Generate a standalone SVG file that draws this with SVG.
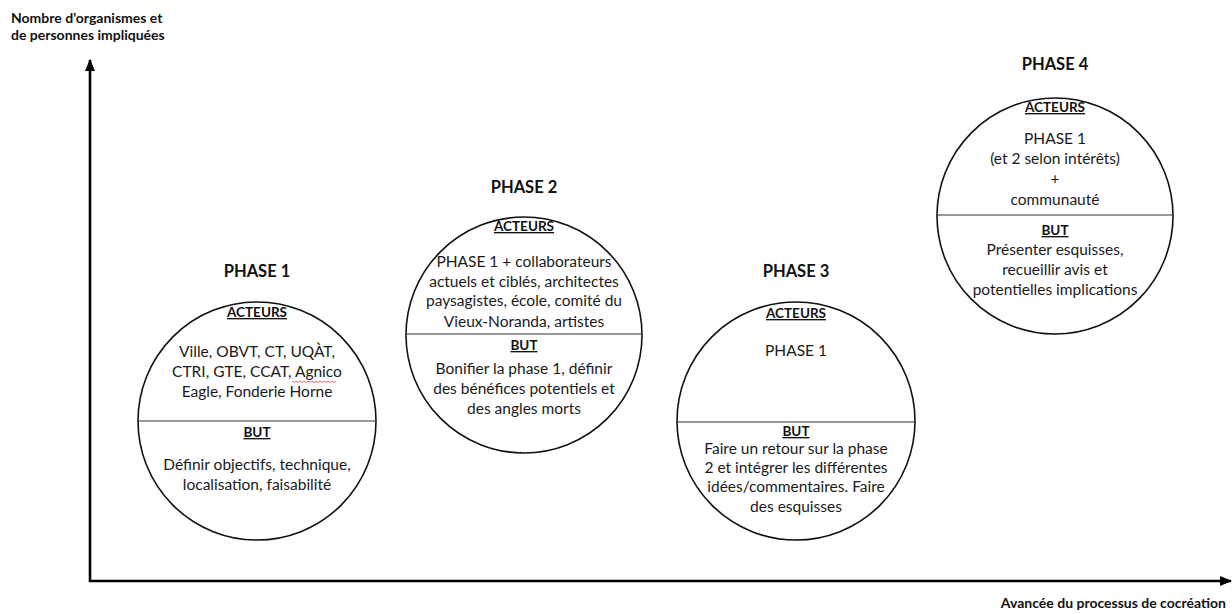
<svg xmlns="http://www.w3.org/2000/svg" width="1232" height="614" viewBox="0 0 1232 614">
<defs>
<style>
text{font-family:Lato,"Liberation Sans",sans-serif;fill:#1a1a1a;}
.t{font-weight:bold;font-size:16.5px;text-anchor:middle;fill:#111;}
.h{font-weight:bold;font-size:13.5px;text-anchor:middle;text-decoration:underline;fill:#111;}
.b{font-size:15.5px;text-anchor:middle;}
.ax{font-weight:bold;font-size:14px;fill:#111;}
.c{fill:#fff;stroke:#111;stroke-width:1.6;}
.d{stroke:#333;stroke-width:1.2;}
.axis{stroke:#000;stroke-width:2.6;fill:none;}
</style>
<marker id="arr" viewBox="0 0 12 10" refX="11" refY="5" markerWidth="12" markerHeight="10" markerUnits="userSpaceOnUse" orient="auto">
<path d="M0,0 L12,5 L0,10 Z" fill="#000"/>
</marker>
</defs>
<rect width="1232" height="614" fill="#fff"/>
<g id="connectors">
<path class="axis" d="M90,582 L90,60" marker-end="url(#arr)"/>
<path class="axis" d="M89,581 L1231,581" marker-end="url(#arr)"/>
</g>
<g id="axis-labels">
<text class="ax" x="11" y="23">Nombre d’organismes et</text>
<text class="ax" x="11" y="40">de personnes impliquées</text>
<text class="ax" x="1226" y="608" text-anchor="end">Avancée du processus de cocréation</text>
</g>
<g id="phase1">
<text class="t" x="257" y="277">PHASE 1</text>
<circle class="c" cx="257" cy="421" r="119"/>
<line class="d" x1="138" y1="421" x2="376" y2="421"/>
<text class="h" x="257" y="317">ACTEURS</text>
<text class="b" x="257" y="357">Ville, OBVT, CT, UQÀT,</text>
<text class="b" x="257" y="377">CTRI, GTE, CCAT, Agnico</text>
<text class="b" x="257" y="397">Eagle, Fonderie Horne</text>
<path d="M292,381 l2,1.5 l2,-1.5 l2,1.5 l2,-1.5 l2,1.5 l2,-1.5 l2,1.5 l2,-1.5 l2,1.5 l2,-1.5 l2,1.5 l2,-1.5 l2,1.5 l2,-1.5 l2,1.5 l2,-1.5 l2,1.5 l2,-1.5 l2,1.5 l2,-1.5 l2,1.5 l2,-1.5" fill="none" stroke="#e04040" stroke-width="0.8"/>
<text class="h" x="257" y="437">BUT</text>
<text class="b" x="257" y="470">Définir objectifs, technique,</text>
<text class="b" x="257" y="490">localisation, faisabilité</text>
</g>
<g id="phase2">
<text class="t" x="524" y="193">PHASE 2</text>
<circle class="c" cx="524" cy="335" r="118"/>
<line class="d" x1="406" y1="334" x2="642" y2="334"/>
<text class="h" x="524" y="231">ACTEURS</text>
<text class="b" x="524" y="267">PHASE 1 + collaborateurs</text>
<text class="b" x="524" y="287">actuels et ciblés, architectes</text>
<text class="b" x="524" y="306">paysagistes, école, comité du</text>
<text class="b" x="524" y="327">Vieux-Noranda, artistes</text>
<text class="h" x="524" y="350">BUT</text>
<text class="b" x="524" y="374">Bonifier la phase 1, définir</text>
<text class="b" x="524" y="394">des bénéfices potentiels et</text>
<text class="b" x="524" y="414">des angles morts</text>
</g>
<g id="phase3">
<text class="t" x="796" y="277">PHASE 3</text>
<circle class="c" cx="796" cy="421" r="119"/>
<line class="d" x1="677" y1="422" x2="915" y2="422"/>
<text class="h" x="796" y="318">ACTEURS</text>
<text class="b" x="796" y="356">PHASE 1</text>
<text class="h" x="796" y="436">BUT</text>
<text class="b" x="796" y="454">Faire un retour sur la phase</text>
<text class="b" x="796" y="473">2 et intégrer les différentes</text>
<text class="b" x="796" y="492">idées/commentaires. Faire</text>
<text class="b" x="796" y="512">des esquisses</text>
</g>
<g id="phase4">
<text class="t" x="1055" y="70">PHASE 4</text>
<circle class="c" cx="1055" cy="216" r="118"/>
<line class="d" x1="937" y1="215" x2="1173" y2="215"/>
<text class="h" x="1055" y="112">ACTEURS</text>
<text class="b" x="1055" y="144">PHASE 1</text>
<text class="b" x="1055" y="164">(et 2 selon intérêts)</text>
<text class="b" x="1055" y="184">+</text>
<text class="b" x="1055" y="205">communauté</text>
<text class="h" x="1055" y="235">BUT</text>
<text class="b" x="1055" y="255">Présenter esquisses,</text>
<text class="b" x="1055" y="275">recueillir avis et</text>
<text class="b" x="1055" y="295">potentielles implications</text>
</g>
</svg>
